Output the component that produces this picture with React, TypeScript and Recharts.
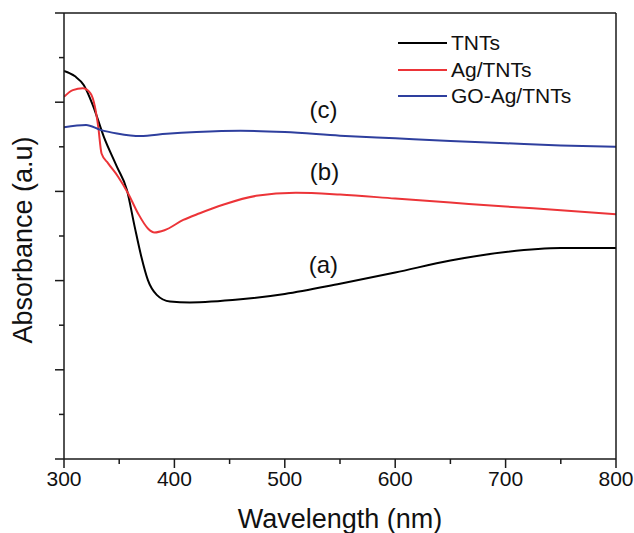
import React from "react";
import { LineChart, Line, XAxis, YAxis, ReferenceDot } from "recharts";

// UV-vis absorbance (arbitrary units, 0..10 scale)
const tntWl = [300, 310, 318, 326, 336, 348, 357, 364, 370, 376, 384, 396, 414, 460, 500, 550, 600, 650, 700, 750, 800];
const tntAbs = [8.7, 8.58, 8.38, 7.94, 7.23, 6.55, 6.03, 5.21, 4.54, 4.01, 3.68, 3.53, 3.51, 3.58, 3.7, 3.93, 4.18, 4.45, 4.64, 4.73, 4.73];

const agWl = [300, 308, 317, 324, 328, 331, 334, 340, 349, 358, 367, 376, 382, 391, 408, 423, 444, 474, 510, 550, 600, 650, 700, 750, 800];
const agAbs = [8.12, 8.27, 8.31, 8.2, 7.9, 7.45, 6.85, 6.63, 6.33, 5.96, 5.51, 5.17, 5.08, 5.13, 5.36, 5.51, 5.7, 5.9, 5.97, 5.93, 5.84, 5.75, 5.66, 5.58, 5.49];

const goWl = [300, 320, 333, 348, 369, 393, 420, 460, 500, 550, 600, 650, 700, 750, 800];
const goAbs = [7.44, 7.49, 7.38, 7.3, 7.24, 7.29, 7.33, 7.36, 7.33, 7.25, 7.19, 7.13, 7.08, 7.03, 7.0];

const xTicks = [300, 350, 400, 450, 500, 550, 600, 650, 700, 750, 800];
const yTicks = [0, 1, 2, 3, 4, 5, 6, 7, 8, 9, 10];

const seriesNames = ["TNTs", "Ag/TNTs", "GO-Ag/TNTs"];
const seriesColors = ["#000000", "#ec3438", "#2e3f9e"];

// curve tags: [label, wavelength, absorbance]
const tags: [string, number, number][] = [
  ["(a)", 535, 4.37],
  ["(b)", 536, 6.44],
  ["(c)", 535, 7.83],
];

const zip = (wl: number[], v: number[]) => wl.map((w, i) => ({ w, v: v[i] }));

const FONT = "'Liberation Sans', Arial, sans-serif";
const AX = "#1a1a1a";

const XTick = (props: any) => {
  const { x, y, payload } = props;
  const major = payload.value % 100 === 0;
  return (
    <g>
      <line x1={x} x2={x} y1={y} y2={y + (major ? 9 : 5)} stroke={AX} strokeWidth={1.5} />
      {major && (
        <text x={x} y={y + 27} textAnchor="middle" fontSize={21} fontFamily={FONT} fill="#111">
          {payload.value}
        </text>
      )}
    </g>
  );
};

const YTick = (props: any) => {
  const { x, y, payload } = props;
  const major = payload.value % 2 === 0;
  return <line x1={x} x2={x - (major ? 9 : 5)} y1={y} y2={y} stroke={AX} strokeWidth={1.5} />;
};

export default function App() {
  const data = [zip(tntWl, tntAbs), zip(agWl, agAbs), zip(goWl, goAbs)];
  return (
    <div style={{ position: "absolute", left: 0, top: 0, width: 634, height: 533, background: "#fff", fontFamily: FONT }}>
      <LineChart width={634} height={533} margin={{ top: 12, right: 17, bottom: 0, left: 63 }}>
        <XAxis
          dataKey="w"
          type="number"
          domain={[300, 800]}
          ticks={xTicks}
          interval={0}
          allowDataOverflow
          height={74}
          tickSize={0}
          tickMargin={0}
          tickLine={false}
          tick={<XTick />}
          axisLine={{ stroke: AX, strokeWidth: 1.5 }}
          label={{
            content: (p: any) => {
              const vb = p.viewBox;
              return (
                <text x={vb.x + vb.width / 2} y={528} textAnchor="middle" fontSize={27} fontFamily={FONT} fill="#111">
                  Wavelength (nm)
                </text>
              );
            },
          }}
        />
        <XAxis xAxisId="top" orientation="top" type="number" domain={[300, 800]} ticks={[]} height={1} tick={false} tickLine={false} axisLine={{ stroke: AX, strokeWidth: 1.5 }} />
        <YAxis
          type="number"
          domain={[0, 10]}
          ticks={yTicks}
          interval={0}
          width={1}
          tickSize={0}
          tickMargin={0}
          tickLine={false}
          tick={<YTick />}
          axisLine={{ stroke: AX, strokeWidth: 1.5 }}
          label={{
            content: () => (
              <text x={32} y={240} transform="rotate(-90, 32, 240)" textAnchor="middle" fontSize={27} fontFamily={FONT} fill="#111">
                Absorbance (a.u)
              </text>
            ),
          }}
        />
        <YAxis yAxisId="right" orientation="right" type="number" domain={[0, 10]} ticks={[]} width={1} tick={false} tickLine={false} axisLine={{ stroke: AX, strokeWidth: 1.5 }} />
        {data.map((d, i) => (
          <Line
            key={seriesNames[i]}
            data={d}
            dataKey="v"
            type="monotone"
            stroke={seriesColors[i]}
            strokeWidth={2}
            dot={false}
            isAnimationActive={false}
          />
        ))}
        {tags.map(([t, w, v]) => (
          <ReferenceDot
            key={t}
            x={w}
            y={v}
            r={0}
            stroke="none"
            fill="none"
            label={{ value: t, position: "center", fontSize: 24, fontFamily: FONT, fill: "#111" }}
          />
        ))}
      </LineChart>
      <div style={{ position: "absolute", left: 398, top: 30, lineHeight: "26.5px", fontSize: 21, color: "#111" }}>
        {seriesNames.map((n, i) => (
          <div key={n} style={{ display: "flex", alignItems: "center", height: 26.5 }}>
            <svg width={50} height={4} style={{ marginRight: 3 }}>
              <line x1={0} x2={49} y1={2} y2={2} stroke={seriesColors[i]} strokeWidth={2.2} />
            </svg>
            <span>{n}</span>
          </div>
        ))}
      </div>
    </div>
  );
}
